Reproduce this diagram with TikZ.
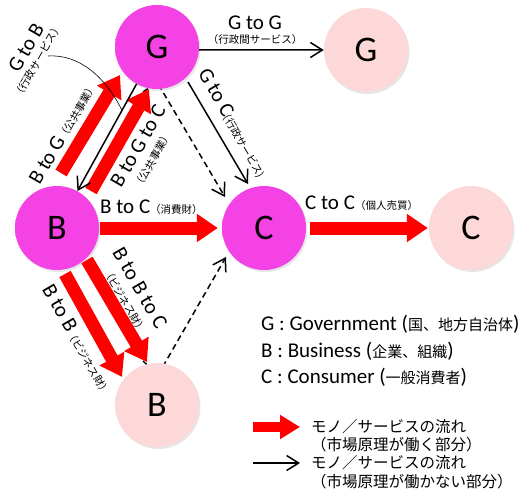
\documentclass[tikz,border=0pt]{standalone}
\usepackage{fontspec}
\setmainfont{Carlito}
\newfontfamily\jp{Noto Sans CJK JP}
\usetikzlibrary{arrows.meta,calc,shadows,backgrounds}

\definecolor{gcolin}{RGB}{244,66,228}
\definecolor{gcolout}{RGB}{212,34,198}
\definecolor{pcolin}{RGB}{252,216,216}
\definecolor{pcolout}{RGB}{238,188,190}
\pgfdeclareradialshading{mainball}{\pgfpoint{0bp}{0bp}}{color(0bp)=(gcolin); color(30bp)=(gcolin); color(50bp)=(gcolout)}
\pgfdeclareradialshading{otherball}{\pgfpoint{0bp}{0bp}}{color(0bp)=(pcolin); color(30bp)=(pcolin); color(50bp)=(pcolout)}

\newcommand{\notesize}{\jp\fontsize{10.5}{12}\selectfont}
\newcommand{\keysize}{\jp\fontsize{15}{17}\selectfont}

\tikzset{
    actor/.style={circle, minimum size=84pt, inner sep=0pt, shade,
        font=\fontsize{36}{36}\selectfont,
        drop shadow={shadow xshift=1.5pt, shadow yshift=-2pt, opacity=0.2}},
    mainactor/.style={actor, shading=mainball},
    otheractor/.style={actor, shading=otherball},
    market/.style={draw=red, line width=13pt, -{Triangle[length=21pt,width=27pt]}},
    nonmarket/.style={draw=black, line width=1.5pt, -{Straight Barb[length=12pt,width=15pt]}},
    indirect/.style={nonmarket, dash pattern=on 6pt off 4pt},
    flowlabel/.style={font=\fontsize{21}{23}\selectfont, inner sep=0pt},
    notelabel/.style={font=\notesize, inner sep=0pt},
    keylabel/.style={font=\fontsize{21}{23}\selectfont, inner sep=0pt, anchor=base west},
    legendtext/.style={font=\jp\fontsize{15.5}{17}\selectfont, inner sep=0pt, anchor=west},
}

\begin{document}
\begin{tikzpicture}[x=1pt, y=-1pt]
        \useasboundingbox (0,0) rectangle (526,492);
        % actors
        \node[mainactor]  (Gm) at (157,47)  {G};
        \node[otheractor] (Gp) at (366,50)  {G};
        \node[mainactor]  (Bm) at (57,228)  {B};
        \node[mainactor]  (Cm) at (264,228) {C};
        \node[otheractor] (Cp) at (471,228) {C};
        \node[otheractor] (Bp) at (157,405) {B};

        % flows where the market works
        \draw[market] ($(Bm)+(4,-55)$) -- ($(Gm)+(-37,28)$);
        \draw[market] ($(Bm)+(34,-37)$) -- ($(Gm)+(-8,42)$);
        \draw[market] ($(Bm.east)+(1,0)$) -- ($(Cm.west)+(-4,0)$);
        \draw[market] ($(Cm.east)+(4,0)$) -- ($(Cp.west)+(-1,0)$);
        \draw[market] ($(Bm)+(8,46)$) -- ($(Bp)+(-35,-28)$);
        \draw[market] ($(Bm)+(30,32)$) -- ($(Bp)+(-10,-43)$);

        % flows where it does not
        \draw[nonmarket] (Gm.-4) -- (Gp.west);
        \draw[nonmarket] (Gm) -- (Bm);
        \draw[nonmarket] ($(Gm)+(31,35)$) -- ($(Cm)+(-16,-44)$);
        \begin{scope}[on background layer]
            \draw[indirect] ($(Gm)+(-14,45)$) -- ($(Gm)+(0,35)$) -- ($(Cm)+(-39,-31)$);
            \draw[indirect] ($(Bp)+(-14,-44)$) -- ($(Bp)+(1,-30)$) -- ($(Cm)+(-38,29)$);
        \end{scope}

        % labels of the flows
        \node[flowlabel] (lGG) at (255,23) {G to G};
        \node[notelabel] (nGG) at (255,40) {（行政間サービス）};
        \node[flowlabel, rotate=60] (lGB) at (26,48) {G to B};
        \node[notelabel, rotate=60] (nGB) at (38,61) {（行政サービス）};
        \coordinate (gbnote) at (48,56);
        \draw[line width=0.6pt] (gbnote) .. controls (80,54) and (106,78) .. ($(Gm)!0.35!(Bm)$);
        \node[flowlabel, rotate=60] (lBG) at (63,133) {B to G{\notesize（公共事業）}};
        \node[flowlabel, rotate=60] (lBGC) at (138,146) {B to G to C};
        \node[notelabel, rotate=60] (nBGC) at (153,160) {（公共事業）};
        \node[flowlabel, rotate=-60] (lGC) at (233,123) {G to C{\notesize(行政サービス)}};
        \node[flowlabel, anchor=base west] (lBC) at (100,213) {B to C{\notesize（消費財）}};
        \node[flowlabel, anchor=base west] (lCC) at (305,209) {C to C{\notesize（個人売買）}};
        \node[flowlabel, rotate=-60] (lBB) at (78,340) {B to B{\notesize（ビジネス財）}};
        \node[flowlabel, rotate=-60] (lBBC) at (140,288) {B to B to C};
        \node[notelabel, rotate=-60] (nBBC) at (125,301) {（ビジネス財）};

        % legend
        \node[keylabel] (kG) at (261,330) {G : Government ({\keysize 国、地方自治体})};
        \node[keylabel] (kB) at (261,357) {B : Business ({\keysize 企業、組織})};
        \node[keylabel] (kC) at (261,383) {C : Consumer ({\keysize 一般消費者})};
        \coordinate (mkA) at (253,427);
        \coordinate (mkB) at (300,427);
        \coordinate (nmA) at (253,463);
        \coordinate (nmB) at (300,463);
        \draw[market, line width=10pt, -{Triangle[length=20pt,width=23pt]}] (mkA) -- (mkB);
        \draw[nonmarket] (nmA) -- (nmB);
        \node[legendtext] (tM1) at (311,427) {モノ／サービスの流れ};
        \node[legendtext] (tM2) at (311,445) {（市場原理が働く部分）};
        \node[legendtext] (tN1) at (311,463) {モノ／サービスの流れ};
        \node[legendtext] (tN2) at (311,482) {（市場原理が働かない部分）};
    \end{tikzpicture}
\end{document}
